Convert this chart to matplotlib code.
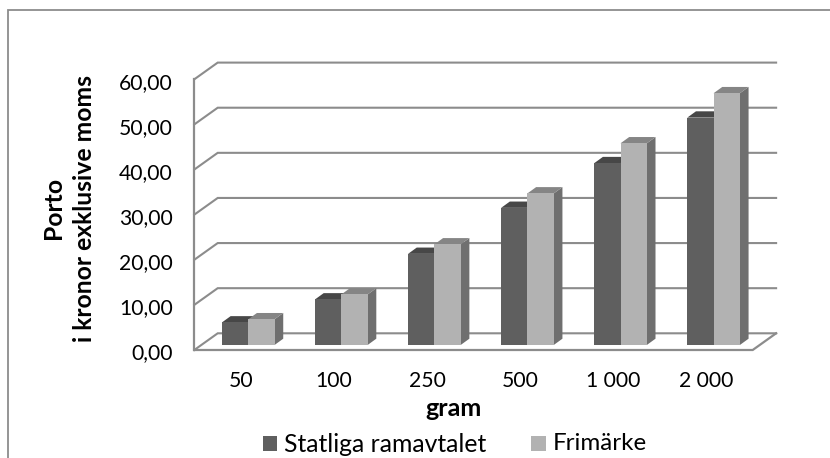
import matplotlib
matplotlib.use("Agg")
import matplotlib.pyplot as plt
from matplotlib.patches import Polygon, Rectangle
from matplotlib.transforms import ScaledTranslation

categories = ["50", "100", "250", "500", "1 000", "2 000"]
statliga = [5.0, 10.1, 20.2, 30.4, 40.3, 50.4]
frimarke = [5.7, 11.2, 22.3, 33.6, 44.7, 55.8]
yticks = [0, 10, 20, 30, 40, 50, 60]

W, H = 830, 458
plt.rcParams['font.family'] = ['Lato', 'DejaVu Sans']

fig = plt.figure(figsize=(W / 100, H / 100), dpi=100)

# front plane of the fake 3d box, in pixels
left, right, bottom, top = 194.3, 752.7, 350, 79.3
ax = fig.add_axes([left / W, 1 - bottom / H, (right - left) / W, (bottom - top) / H])
ax.set_xlim(0, 6)
ax.set_ylim(0, 60)
ax.patch.set_visible(False)
for s in ax.spines.values():
    s.set_visible(False)

px_x = (right - left) / 6
px_y = (bottom - top) / 60

# wall depth
wall_dx = 23.4 / px_x
wall_dy = 16.7 / px_y
grid_c = "#8c8c8c"
for v in yticks:
    ax.plot([0, wall_dx, 6 + wall_dx], [v, v + wall_dy, v + wall_dy], color=grid_c, lw=1.5,
            clip_on=False, zorder=1, solid_joinstyle="miter")
ax.plot([0, 0], [0, 60], color=grid_c, lw=1.6, clip_on=False, zorder=1)
ax.plot([0, 6, 6 + wall_dx], [0, 0, wall_dy], color=grid_c, lw=1.6, clip_on=False, zorder=1,
        solid_joinstyle="miter")

# bars sit a little behind the front plane
bar_w = 26.3 / px_x
base_x = 7.4 / px_x
base_y = 5 / px_y
dep_x = 8.7 / px_x
dep_y = 6.3 / px_y


def draw_bars(values, offset, front, top_c, side_c):
    for i, v in enumerate(values):
        x0 = i + 0.5 + base_x + offset * bar_w
        x1 = x0 + bar_w
        y0 = base_y
        y1 = base_y + v
        ax.add_patch(Polygon([(x1, y0), (x1 + dep_x, y0 + dep_y), (x1 + dep_x, y1 + dep_y), (x1, y1)],
                             fc=side_c, ec="none", clip_on=False, zorder=3))
        ax.add_patch(Polygon([(x0, y1), (x0 + dep_x, y1 + dep_y), (x1 + dep_x, y1 + dep_y), (x1, y1)],
                             fc=top_c, ec="none", clip_on=False, zorder=3))
        ax.bar(x0, v, bar_w, bottom=y0, align="edge", color=front, clip_on=False, zorder=4)


draw_bars(statliga, -1, "#5f5f5f", "#474747", "#555555")
draw_bars(frimarke, 0, "#b2b2b2", "#858585", "#6f6f6f")

ax.set_xticks([i + 0.5 for i in range(6)])
ax.set_xticklabels(categories, fontsize=15.2)
ax.set_yticks(yticks)
ax.set_yticklabels(["%d,00" % v for v in yticks], fontsize=15.2)
ax.tick_params(length=0)
ax.tick_params(axis="y", pad=15.5)
ax.tick_params(axis="x", pad=15)

# nudge y labels down a bit
nudge = ScaledTranslation(0, -1.5 / 100, fig.dpi_scale_trans)
for lab in ax.get_yticklabels():
    lab.set_transform(lab.get_transform() + nudge)

fig.text(453 / W, 1 - 408 / H, "gram", fontsize=18, fontweight="bold", ha="center", va="center")
fig.text(53 / W, 1 - 208 / H, "Porto", fontsize=17.8, fontweight="bold",
         rotation=90, ha="center", va="center")
fig.text(85 / W, 1 - 208 / H, "i kronor exklusive moms", fontsize=17.8, fontweight="bold",
         rotation=90, ha="center", va="center")

# legend
fig.add_artist(Rectangle((263 / W, 1 - 451 / H), 14 / W, 15 / H, fc="#5f5f5f", ec="none", transform=fig.transFigure))
fig.text(284 / W, 1 - 444 / H, "Statliga ramavtalet", fontsize=17.8, va="center")
fig.add_artist(Rectangle((531 / W, 1 - 451 / H), 15 / W, 15 / H, fc="#b2b2b2", ec="none", transform=fig.transFigure))
fig.text(553 / W, 1 - 444 / H, "Frimärke", fontsize=17.4, va="center")

# chart frame, cut off at the bottom and right of the image
frame_c = "#8c8c8c"
fig.add_artist(plt.Line2D([8 / W, 8 / W, 1], [0, 1 - 10 / H, 1 - 10 / H], color=frame_c, lw=1.3,
                          solid_joinstyle="miter"))

fig.savefig("out.png", dpi=100)
